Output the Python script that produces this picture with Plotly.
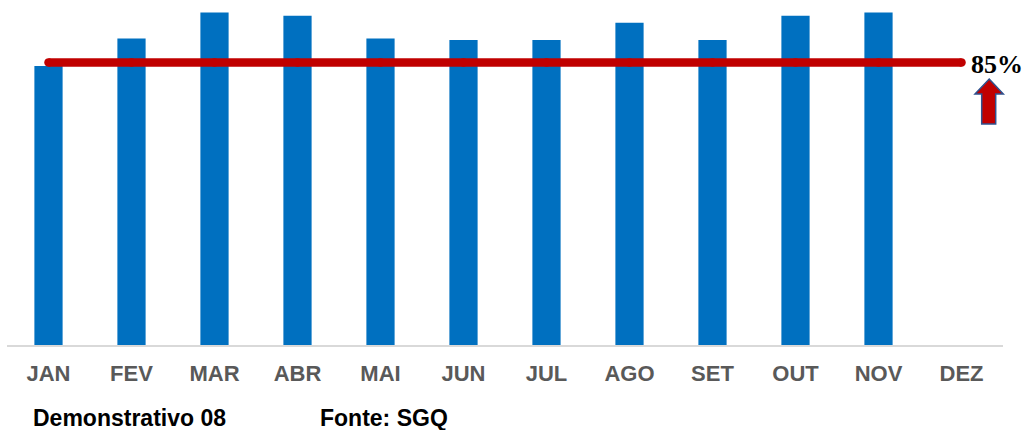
import plotly.graph_objects as go

months = ["JAN", "FEV", "MAR", "ABR", "MAI", "JUN", "JUL", "AGO", "SET", "OUT", "NOV", "DEZ"]
values = [83.9, 92.2, 100.0, 99.0, 92.2, 91.7, 91.7, 96.9, 91.7, 99.0, 100.0, None]
target = [85] * 12
target_label = "85%"
footer_left = "Demonstrativo 08"
footer_right = "Fonte: SGQ"

W, H = 1025, 430
L, R, T, B = 7, 22, 0, 85
PW, PH = W - L - R, H - T - B


def px(x):
    return (x - L) / PW


def py(y):
    return (H - B - y) / PH


fig = go.Figure()
fig.add_trace(go.Bar(x=months, y=values, marker=dict(color="#0070C0", line=dict(width=0)),
                     showlegend=False, hoverinfo="x+y"))
fig.add_trace(go.Scatter(x=months, y=target, mode="lines+markers",
                         line=dict(color="#C00000", width=8.5),
                         marker=dict(color="#C00000", size=8.5, line=dict(width=0)),
                         showlegend=False))

# target label
fig.add_annotation(x=px(969), y=py(64), xref="paper", yref="paper", text="<b>" + target_label + "</b>",
                   showarrow=False, xanchor="left", yanchor="middle",
                   font=dict(family="Liberation Serif, Times New Roman, serif", size=26, color="#000000"))

# up arrow
pts = [(989.2, 79), (1003.3, 94), (995.7, 94), (995.7, 124), (981.7, 124), (981.7, 94), (975, 94)]
path = "M " + " L ".join(f"{px(a):.5f},{py(b):.5f}" for a, b in pts) + " Z"
fig.add_shape(type="path", path=path, xref="paper", yref="paper",
              fillcolor="#C00000", line=dict(color="#2F528F", width=1.5))

# footer
fig.add_annotation(x=px(31), y=py(418), xref="paper", yref="paper", text="<b>" + footer_left + "</b>",
                   showarrow=False, xanchor="left", yanchor="middle",
                   font=dict(family="Liberation Sans, Arial, sans-serif", size=23, color="#000000"))
fig.add_annotation(x=px(318), y=py(418), xref="paper", yref="paper", text="<b>" + footer_right + "</b>",
                   showarrow=False, xanchor="left", yanchor="middle",
                   font=dict(family="Liberation Sans, Arial, sans-serif", size=23, color="#000000"))

fig.update_layout(
    width=W, height=H,
    margin=dict(l=L, r=R, t=T, b=B, pad=0, autoexpand=False),
    paper_bgcolor="white", plot_bgcolor="white",
    bargap=0.66,
    xaxis=dict(showgrid=False, showline=True, linecolor="#D9D9D9", linewidth=2,
               ticks="", ticklabelstandoff=8,
               tickfont=dict(family="Liberation Sans, Arial, sans-serif", size=22,
                             color="#595959", weight="bold"),
               range=[-0.5, 11.5]),
    yaxis=dict(range=[0, 103.76], showgrid=False, showticklabels=False, zeroline=False,
               showline=False, ticks=""),
)

fig.write_html("out.html", config={"displayModeBar": False},
               post_script="document.body.style.margin='0px';document.body.style.overflow='hidden';")
